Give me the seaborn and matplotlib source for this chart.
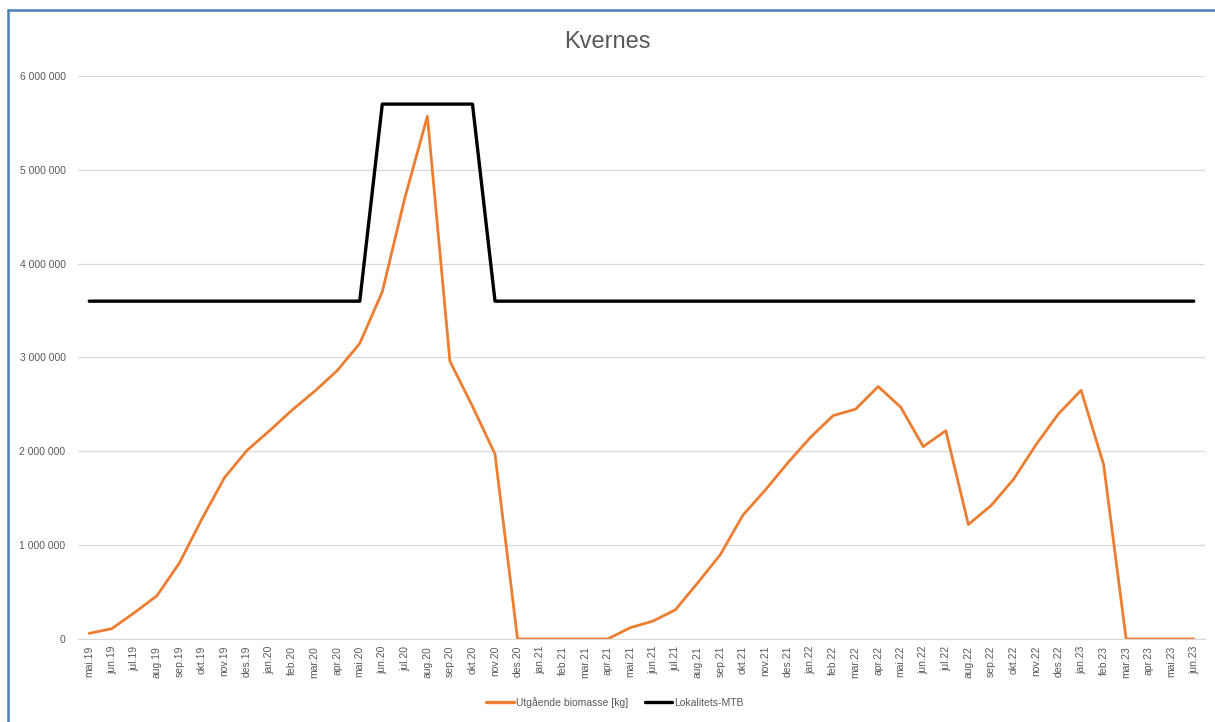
import numpy as np
import pandas as pd
import seaborn as sns
from matplotlib import pyplot as plt
from matplotlib.lines import Line2D

# Month labels, mai.19 - jun.23
months = ['mai.19', 'jun.19', 'jul.19', 'aug.19', 'sep.19', 'okt.19', 'nov.19', 'des.19',
          'jan.20', 'feb.20', 'mar.20', 'apr.20', 'mai.20', 'jun.20', 'jul.20', 'aug.20',
          'sep.20', 'okt.20', 'nov.20', 'des.20',
          'jan.21', 'feb.21', 'mar.21', 'apr.21', 'mai.21', 'jun.21', 'jul.21', 'aug.21',
          'sep.21', 'okt.21', 'nov.21', 'des.21',
          'jan.22', 'feb.22', 'mar.22', 'apr.22', 'mai.22', 'jun.22', 'jul.22', 'aug.22',
          'sep.22', 'okt.22', 'nov.22', 'des.22',
          'jan.23', 'feb.23', 'mar.23', 'apr.23', 'mai.23', 'jun.23']

# Utgående biomasse [kg]
biomasse = [60000, 110000, 280000, 460000, 810000, 1280000, 1720000, 2010000,
            2220000, 2440000, 2640000, 2860000, 3150000, 3700000, 4700000, 5570000,
            2960000, 2480000, 1970000, 0,
            0, 0, 0, 0, 120000, 190000, 310000, 600000,
            900000, 1320000, 1590000, 1880000,
            2150000, 2380000, 2450000, 2690000, 2470000, 2050000, 2220000, 1220000,
            1420000, 1700000, 2070000, 2400000,
            2650000, 1860000, 0, 0, 0, 0]

# Lokalitets-MTB
mtb = [3600000] * 13 + [5700000] * 5 + [3600000] * 32

names = ['Utgående biomasse [kg]', 'Lokalitets-MTB']
colors = ['#ED7D31', '#000000']

df = pd.DataFrame({
    'pos': list(range(len(months))) * 2,
    'value': biomasse + mtb,
    'serie': [names[0]] * len(months) + [names[1]] * len(months),
})

sns.set_style('white')
plt.rcParams['font.family'] = ['Liberation Sans', 'DejaVu Sans']

fig = plt.figure(figsize=(12.15, 7.22), dpi=100)
ax = fig.add_axes([0.0642, 0.115, 0.9276, 0.7798])

sns.lineplot(data=df, x='pos', y='value', hue='serie', hue_order=names,
             palette=colors, ax=ax, legend=False, estimator=None, sort=False)
ax.lines[0].set_linewidth(2.0)
ax.lines[1].set_linewidth(2.4)
ax.lines[1].set_zorder(3)

ax.set_xlim(-0.5, len(months) - 0.5)
ax.set_ylim(0, 6000000)
ax.set_yticks(np.arange(0, 6000001, 1000000))
ax.set_yticklabels(['0'] + [f'{v:,}'.replace(',', ' ') for v in range(1000000, 6000001, 1000000)])
ax.set_xticks(range(len(months)))
ax.set_xticklabels(months, rotation=90)
ax.tick_params(axis='x', length=0, pad=5, labelsize=7.5, labelcolor='#595959')
ax.tick_params(axis='y', length=0, pad=9, labelsize=7.5, labelcolor='#595959')
ax.grid(axis='y', color='#D9D9D9', linewidth=0.9)
ax.set_axisbelow(True)
for s in ['top', 'right', 'left']:
    ax.spines[s].set_visible(False)
ax.spines['bottom'].set_color('#D9D9D9')
ax.set_xlabel('')
ax.set_ylabel('')

fig.text(0.5, 0.942, 'Kvernes', ha='center', va='center', fontsize=17, color='#595959')

handles = [Line2D([], [], color=colors[0], lw=2.4), Line2D([], [], color=colors[1], lw=2.4)]
fig.legend(handles, names, loc='center', bbox_to_anchor=(0.506, 0.027), ncol=2, frameon=False,
           fontsize=7.5, handlelength=2.6, handletextpad=0.2, columnspacing=1.6,
           labelcolor='#595959')

# chart frame
fig.add_artist(Line2D([0.0066, 1.0], [0.9868, 0.9868], color='#4F7FB8', lw=1.8))
fig.add_artist(Line2D([0.0066, 0.0066], [0.0, 0.9868], color='#4F7FB8', lw=1.8))

fig.savefig('out.png', dpi=100)
